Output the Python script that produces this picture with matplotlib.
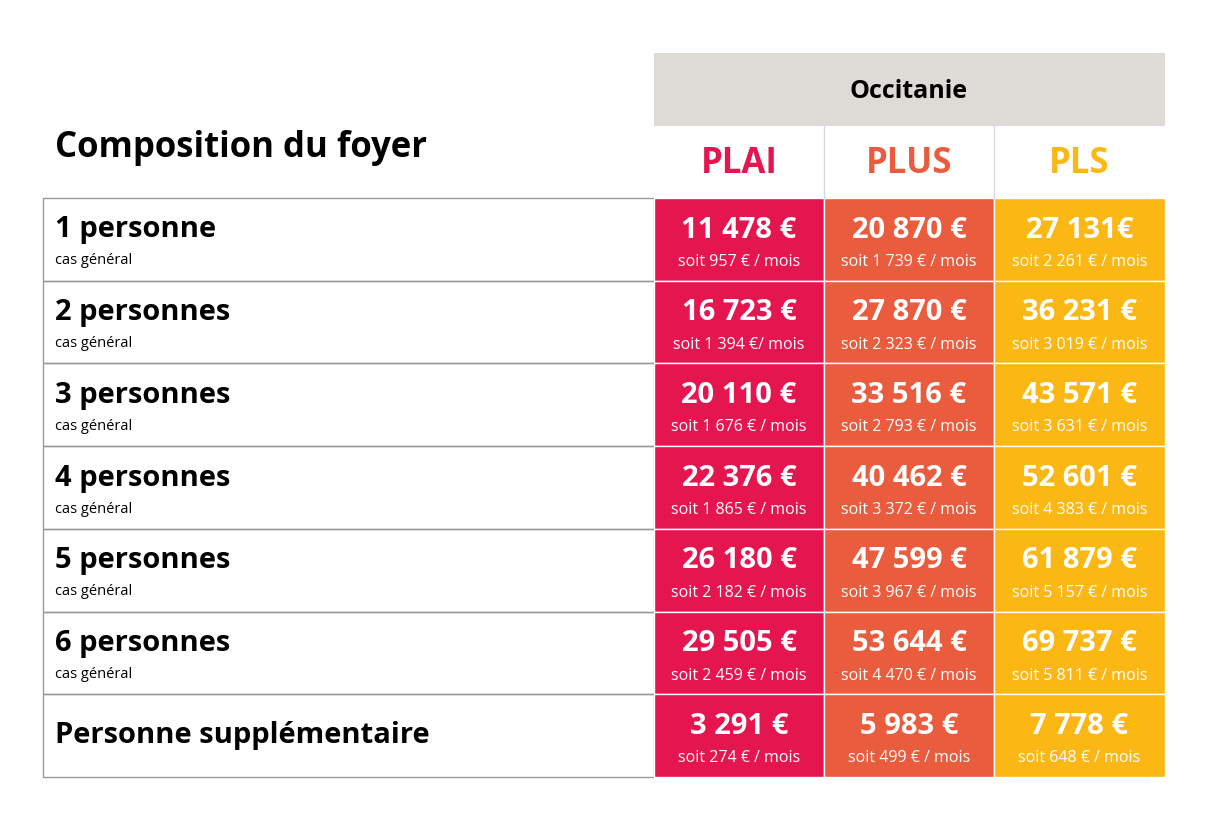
import matplotlib.pyplot as plt
from matplotlib.patches import Rectangle

region = 'Occitanie'
title = 'Composition du foyer'
columns = ['PLAI', 'PLUS', 'PLS']
col_colors = ['#E4154F', '#E95C3E', '#FBB814']
row_labels = ['1 personne', '2 personnes', '3 personnes', '4 personnes',
              '5 personnes', '6 personnes', 'Personne supplémentaire']
row_subs = ['cas général'] * 6 + ['']

plai = ['11 478 €', '16 723 €', '20 110 €', '22 376 €', '26 180 €', '29 505 €', '3 291 €']
plai_m = ['soit 957 € / mois', 'soit 1 394 €/ mois', 'soit 1 676 € / mois', 'soit 1 865 € / mois',
          'soit 2 182 € / mois', 'soit 2 459 € / mois', 'soit 274 € / mois']
plus = ['20 870 €', '27 870 €', '33 516 €', '40 462 €', '47 599 €', '53 644 €', '5 983 €']
plus_m = ['soit 1 739 € / mois', 'soit 2 323 € / mois', 'soit 2 793 € / mois', 'soit 3 372 € / mois',
          'soit 3 967 € / mois', 'soit 4 470 € / mois', 'soit 499 € / mois']
pls = ['27 131€', '36 231 €', '43 571 €', '52 601 €', '61 879 €', '69 737 €', '7 778 €']
pls_m = ['soit 2 261 € / mois', 'soit 3 019 € / mois', 'soit 3 631 € / mois', 'soit 4 383 € / mois',
         'soit 5 157 € / mois', 'soit 5 811 € / mois', 'soit 648 € / mois']

values = [plai, plus, pls]
monthly = [plai_m, plus_m, pls_m]

plt.rcParams['font.family'] = 'Open Sans'
fig = plt.figure(figsize=(12.05, 8.27), dpi=100)
ax = fig.add_axes([0, 0, 1, 1])
ax.set_xlim(0, 1205)
ax.set_ylim(827, 0)
ax.axis('off')

left, split = 43, 654
col_x = [654, 824, 994, 1165]
top, row_h = 198, 82.7

# header
ax.add_patch(Rectangle((654, 53), 1165 - 654, 73, color='#DEDAD6', lw=0))
ax.text(909, 91, region, ha='center', va='center', fontsize=18, fontweight='bold', color='black')
ax.text(55, 148, title, ha='left', va='center', fontsize=25, fontweight='bold', color='black')
for j, name in enumerate(columns):
    cx = (col_x[j] + col_x[j + 1]) / 2
    ax.text(cx, 164, name, ha='center', va='center', fontsize=25, fontweight='bold', color=col_colors[j])
for x in col_x[1:3]:
    ax.plot([x, x], [126, top], color='#D8D5DE', lw=1)

for i, label in enumerate(row_labels):
    y0 = top + i * row_h
    ax.add_patch(Rectangle((left, y0), split - left, row_h, fill=False, ec='#9A9A9A', lw=1))
    if row_subs[i]:
        ax.text(55, y0 + 32, label, ha='left', va='center', fontsize=21, fontweight='bold')
        ax.text(55, y0 + 63, row_subs[i], ha='left', va='center', fontsize=10.5)
    else:
        ax.text(55, y0 + row_h / 2, label, ha='left', va='center', fontsize=21, fontweight='bold')
    for j in range(3):
        ax.add_patch(Rectangle((col_x[j], y0), col_x[j + 1] - col_x[j], row_h,
                               fc=col_colors[j], ec='white', lw=1))
        cx = (col_x[j] + col_x[j + 1]) / 2
        ax.text(cx, y0 + 32, values[j][i], ha='center', va='center', fontsize=21,
                fontweight='bold', color='white')
        ax.text(cx, y0 + 64, monthly[j][i], ha='center', va='center', fontsize=11.5, color='white')

plt.savefig('out.png', dpi=100)
plt.close()
